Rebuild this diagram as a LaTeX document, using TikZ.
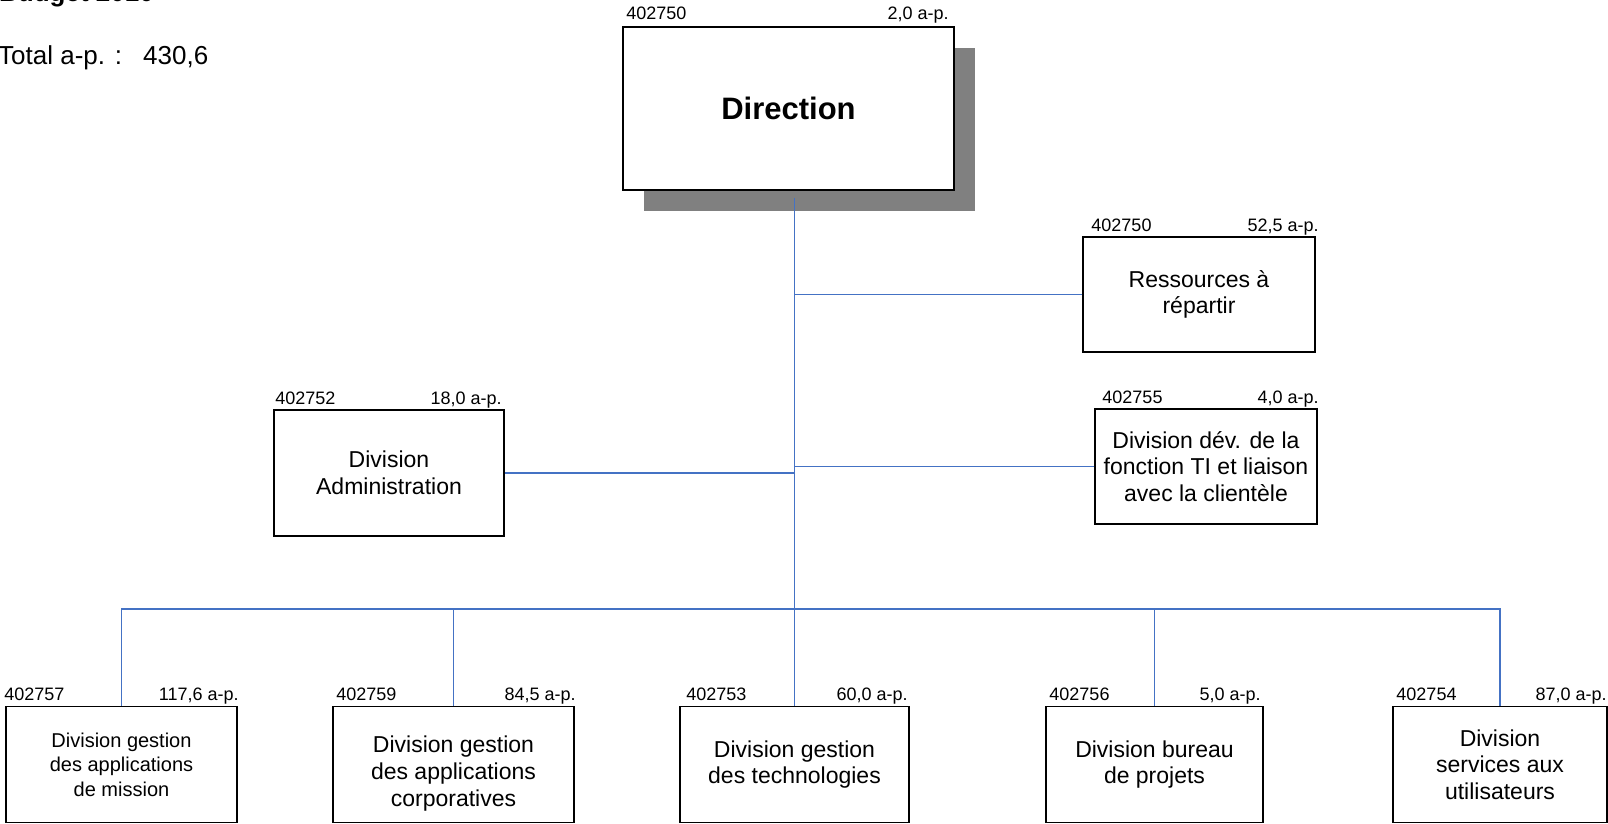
\documentclass[tikz,border=0pt]{standalone}
\usepackage{fontspec}
\setmainfont{Liberation Sans}
\usetikzlibrary{shadows}
\definecolor{linkblue}{HTML}{4472C4}
\definecolor{shadowgray}{HTML}{808080}
\tikzset{
  box/.style={draw=black, line width=1.5pt, fill=white, align=center, inner sep=0pt,
    font=\fontsize{23}{26.7}\selectfont},
  boxtext/.style={align=center, inner sep=0pt, font=\fontsize{23}{26.7}\selectfont},
  lbl/.style={inner sep=0pt, font=\fontsize{18}{21}\selectfont},
  conn/.style={draw=linkblue, line width=1.5pt},
}
\begin{document}
\begin{tikzpicture}[x=1pt, y=-1pt]
\useasboundingbox (0,0) rectangle (1608,824);
\clip (0,0) rectangle (1608,824);

% header texts
\node[anchor=base west, inner sep=0pt, font=\bfseries\fontsize{26}{30}\selectfont] (budget) at (-1,2) {Budget 2010};
\node[anchor=base west, inner sep=0pt, font=\fontsize{26}{30}\selectfont] (total) at (-2,65) {Total a-p. :};
\node[anchor=base west, inner sep=0pt, font=\fontsize{26}{30}\selectfont] (totalv) at (143,65) {430,6};

% Direction
\node[box, minimum width=331pt, minimum height=163pt,
  drop shadow={shadow xshift=21pt, shadow yshift=-21pt, fill=shadowgray, opacity=1},
  font=\bfseries\fontsize{31}{36}\selectfont] (dir) at (788.5,108.5) {Direction};
\node[lbl, anchor=base west] (dirid) at ([shift={(4pt,7pt)}]dir.north west) {402750};
\node[lbl, anchor=base east] (dirap) at ([shift={(-6pt,7pt)}]dir.north east) {2,0 a-p.};

% Ressources
\node[box, minimum width=232pt, minimum height=115pt] (res) at (1199,294.5) {Ressources à\\répartir};
\node[lbl, anchor=base west] (resid) at ([shift={(9pt,5pt)}]res.north west) {402750};
\node[lbl, anchor=base east] (resap) at ([shift={(3pt,5pt)}]res.north east) {52,5 a-p.};

% Division dev
\node[box, minimum width=222pt, minimum height=115pt] (dev) at (1206,466.5) {Division dév. de la\\fonction TI et liaison\\avec la clientèle};
\node[lbl, anchor=base west] (devid) at ([shift={(8pt,5pt)}]dev.north west) {402755};
\node[lbl, anchor=base east] (devap) at ([shift={(1pt,5pt)}]dev.north east) {4,0 a-p.};

% Administration
\node[box, minimum width=230pt, minimum height=126pt] (adm) at (389,473) {Division\\Administration};
\node[lbl, anchor=base west] (admid) at ([shift={(2pt,5pt)}]adm.north west) {402752};
\node[lbl, anchor=base east] (admap) at ([shift={(-3pt,5pt)}]adm.north east) {18,0 a-p.};

% bottom row
\node[box, minimum width=231pt, minimum height=116pt, font=\fontsize{20}{24.5}\selectfont] (b1) at (121.5,764.5) {Division gestion\\des applications\\de mission};
\node[lbl, anchor=base west] (b1id) at ([shift={(-1pt,5pt)}]b1.north west) {402757};
\node[lbl, anchor=base east] (b1ap) at ([shift={(1pt,5pt)}]b1.north east) {117,6 a-p.};

\node[box, minimum width=241pt, minimum height=116pt] (b2) at (453.5,764.5) {};
\node[boxtext] (b2t) at ([yshift=-9pt]b2.center) {Division gestion\\des applications\\corporatives};
\node[lbl, anchor=base west] (b2id) at ([shift={(4pt,5pt)}]b2.north west) {402759};
\node[lbl, anchor=base east] (b2ap) at ([shift={(1pt,5pt)}]b2.north east) {84,5 a-p.};

\node[box, minimum width=229pt, minimum height=116pt] (b3) at (794.5,764.5) {Division gestion\\des technologies};
\node[lbl, anchor=base west] (b3id) at ([shift={(7pt,5pt)}]b3.north west) {402753};
\node[lbl, anchor=base east] (b3ap) at ([shift={(-2pt,5pt)}]b3.north east) {60,0 a-p.};

\node[box, minimum width=217pt, minimum height=116pt] (b4) at (1154.5,764.5) {Division bureau\\de projets};
\node[lbl, anchor=base west] (b4id) at ([shift={(4pt,5pt)}]b4.north west) {402756};
\node[lbl, anchor=base east] (b4ap) at ([shift={(-3pt,5pt)}]b4.north east) {5,0 a-p.};

\node[box, minimum width=214pt, minimum height=116pt] (b5) at (1500,764.5) {Division\\services aux\\utilisateurs};
\node[lbl, anchor=base west] (b5id) at ([shift={(4pt,5pt)}]b5.north west) {402754};
\node[lbl, anchor=base east] (b5ap) at ([shift={(-1pt,5pt)}]b5.north east) {87,0 a-p.};

% connectors
\coordinate (dstart) at ([yshift=-7pt]dir.south -| b3.north);
\coordinate (bus) at (794.5,609);
\draw[conn] (dstart) -- (b3.north);
\draw[conn] (res.west) -- (res.west -| b3.north);
\draw[conn] (dev.west) -- (dev.west -| b3.north);
\draw[conn] (adm.east) -- (adm.east -| b3.north);
\draw[conn] (b1.north) -- (b1.north |- bus) -- (b5.north |- bus) -- (b5.north);
\draw[conn] (b2.north) -- (b2.north |- bus);
\draw[conn] (b4.north) -- (b4.north |- bus);
\end{tikzpicture}
\end{document}
